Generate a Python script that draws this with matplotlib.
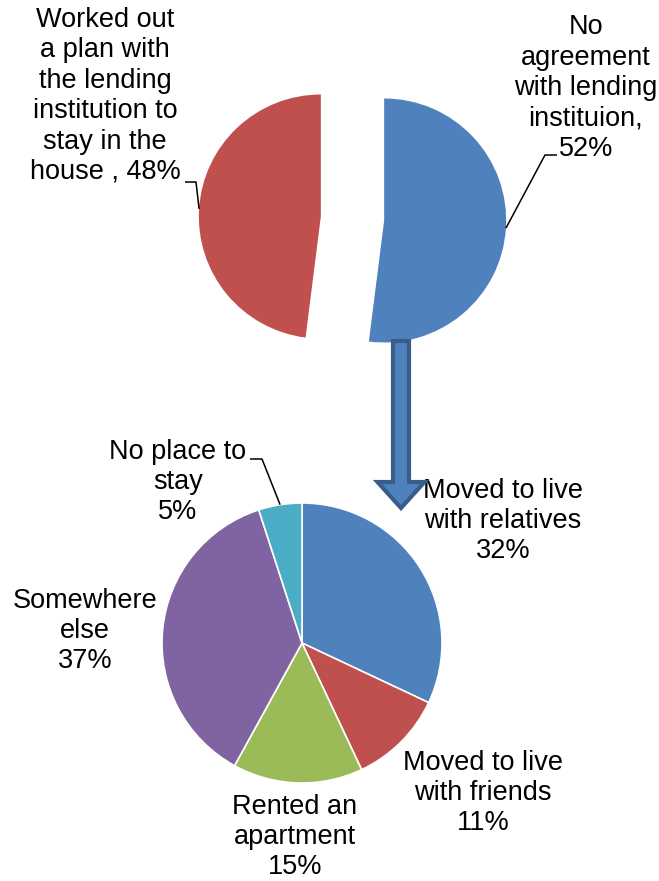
import numpy as np
import matplotlib.pyplot as plt
from matplotlib.patches import FancyArrow

plt.rcParams['font.family'] = ['Liberation Sans', 'DejaVu Sans']

# top pie: outcome with the lending institution
top_labels = ['No\nagreement\nwith lending\ninstituion,\n52%',
              'Worked out\na plan with\nthe lending\ninstitution to\nstay in the\nhouse , 48%']
top_values = [52, 48]
top_colors = ['#4F81BD', '#C0504D']

# bottom pie: where people without an agreement went
bottom_labels = ['Moved to live\nwith relatives\n32%',
                 'Moved to live\nwith friends\n11%',
                 'Rented an\napartment\n15%',
                 'Somewhere\nelse\n37%',
                 'No place to\nstay\n5%']
bottom_values = [32, 11, 15, 37, 5]
bottom_colors = ['#4F81BD', '#C0504D', '#9BBB59', '#8064A2', '#4BACC6']

W, H = 659, 881
fig = plt.figure(figsize=(W / 100, H / 100), dpi=100)
ax = fig.add_axes([0, 0, 1, 1])


def py(y):
    # pixel row (from top) -> data y
    return H - y


def edge_point(w):
    mid = np.deg2rad((w.theta1 + w.theta2) / 2)
    cx, cy = w.center
    return cx + w.r * np.cos(mid), cy + w.r * np.sin(mid)


top_r = 122
# explode is in data units here, not radius fractions
top_wedges, _ = ax.pie(top_values, colors=top_colors, startangle=90, counterclock=False,
                       explode=[0.26 * top_r, 0.26 * top_r], center=(352.5, py(218.5)),
                       radius=top_r, wedgeprops=dict(linewidth=0))
bot_wedges, _ = ax.pie(bottom_values, colors=bottom_colors, startangle=90, counterclock=False,
                       center=(302, py(643)), radius=140,
                       wedgeprops=dict(edgecolor='white', linewidth=1.2))

fs = 19.5
txt = dict(ha='center', va='center', fontsize=fs, color='black', linespacing=1.22)

# top labels
ax.text(586, py(88), top_labels[0], **txt)
ax.text(105, py(96), top_labels[1], **txt)

# bottom labels
ax.text(503, py(521), bottom_labels[0], **txt)
ax.text(483, py(793), bottom_labels[1], **txt)
ax.text(295, py(837), bottom_labels[2], **txt)
ax.text(85, py(631), bottom_labels[3], **txt)
ax.text(178, py(482), bottom_labels[4], **txt)

# leader lines
line = dict(color='black', lw=1.1, solid_capstyle='butt')
x0, y0 = edge_point(top_wedges[0])
ax.plot([x0, 545, 557], [y0, py(155), py(155)], **line)
x0, y0 = edge_point(top_wedges[1])
ax.plot([x0, 196, 185], [y0, py(182), py(182)], **line)
x0, y0 = edge_point(bot_wedges[4])
ax.plot([x0, 262, 250], [y0, py(459), py(459)], **line)

# block arrow between the two pies
ax.add_patch(FancyArrow(401, py(341), 0, -(508 - 341), width=16, head_width=47,
                        head_length=26, length_includes_head=True,
                        facecolor='#4F81BD', edgecolor='#385D8A', linewidth=3,
                        joinstyle='miter', zorder=3))

ax.set_xlim(0, W)
ax.set_ylim(0, H)
ax.set_aspect('equal')
ax.axis('off')

fig.savefig('out.png', dpi=100, facecolor='white')
